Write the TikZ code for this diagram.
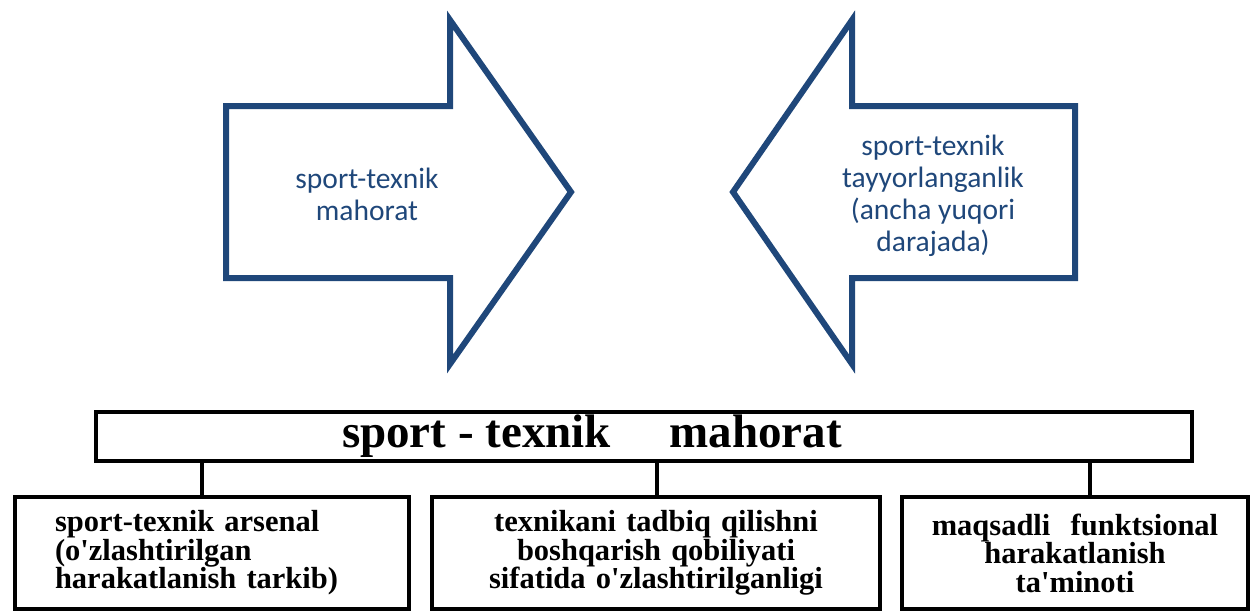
\documentclass[tikz,border=0pt]{standalone}
\usepackage{fontspec}
\setmainfont{Liberation Serif}
\newfontfamily\labelfont{Carlito}
\usepackage{xcolor}
\usepackage{tikz}
\definecolor{arrowblue}{RGB}{31, 71, 122}
\usetikzlibrary{positioning}
\newcommand{\apos}{\textquotesingle}

\begin{document}
\begin{tikzpicture}[
    x=1pt, y=-1pt,
    bigarrow/.style={draw=arrowblue, line width=6pt, line join=miter},
    arrowtext/.style={
        align=center,
        text=arrowblue,
        font=\labelfont\fontsize{29.5}{32}\selectfont
    },
    box/.style={
        rectangle,
        draw=black,
        line width=4pt,
        minimum height=112pt,
        inner xsep=0pt,
        font=\bfseries\fontsize{30.5}{28.6}\selectfont
    },
    link/.style={line width=4pt}
]
    \useasboundingbox (0,0) rectangle (1257,611);

    % Arrows
    \draw[bigarrow] (226,106) -- (450,106) -- (450,20) -- (571,192)
        -- (450,364) -- (450,278) -- (226,278) -- cycle;
    \draw[bigarrow] (1075,106) -- (852,106) -- (852,20) -- (733,192)
        -- (852,364) -- (852,278) -- (1075,278) -- cycle;
    \node[arrowtext] (skilltext) at (367,194) {sport-texnik\\mahorat};
    \node[arrowtext] (readytext) at (933,196) {sport-texnik\\tayyorlanganlik\\(ancha yuqori\\darajada)};

    % Structure
    \node[box, minimum width=1096pt, minimum height=49pt] (skill) at (644,436) {};
    \node[font=\bfseries\fontsize{47}{50}\selectfont] (title) at ([xshift=-52pt]skill.center)
        {sport - texnik \quad mahorat};

    \node[box, minimum width=394pt, text width=314pt, align=left] (arsenal) at (212,553)
        {sport-texnik arsenal\\(o\apos zlashtirilgan\\harakatlanish tarkib)};
    \node[box, minimum width=448pt, text width=448pt, align=center] (control) at (656,553)
        {texnikani tadbiq qilishni\\boshqarish qobiliyati\\sifatida o\apos zlashtirilganligi};
    \node[box, minimum width=346pt, text width=346pt, align=center] (support) at (1075,553)
        {maqsadli\ \ funktsional\\harakatlanish\\ta\apos minoti};

    \draw[link] ([xshift=-10pt]arsenal.north) -- ([xshift=-10pt]arsenal.north |- skill.south);
    \draw[link] ([xshift=1pt]control.north) -- ([xshift=1pt]control.north |- skill.south);
    \draw[link] ([xshift=15pt]support.north) -- ([xshift=15pt]support.north |- skill.south);
\end{tikzpicture}
\end{document}
